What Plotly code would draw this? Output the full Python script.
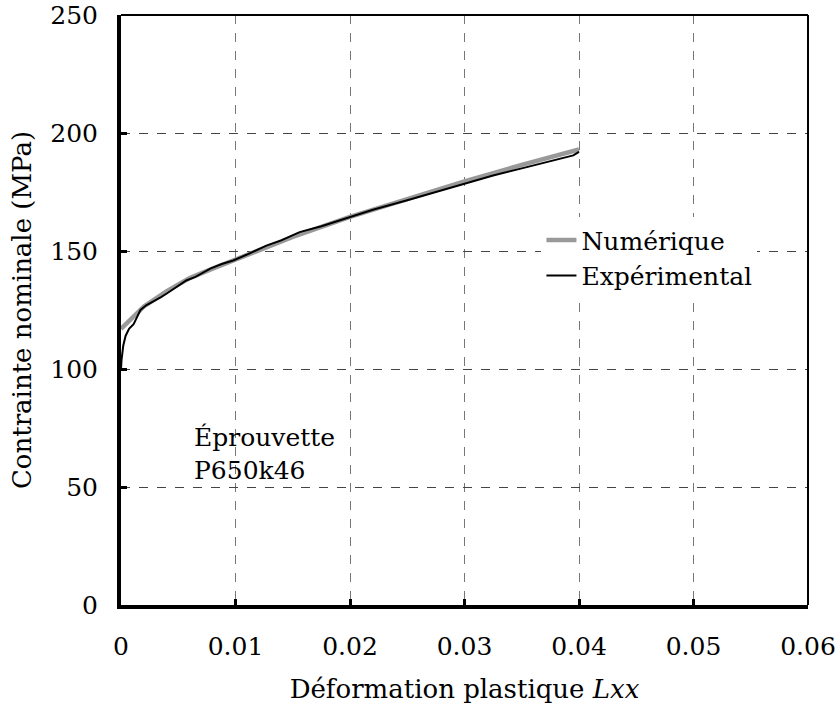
import plotly.graph_objects as go

num_x = [0, 0.001, 0.002, 0.004, 0.006, 0.008, 0.010, 0.012, 0.015, 0.020, 0.025, 0.030, 0.035, 0.040]
num_y = [117, 122, 126.5, 133, 138.5, 142.5, 146.5, 150.5, 156, 164.5, 172, 179.5, 186.5, 193]

exp_x = [0, 0.00005, 0.0002, 0.0004, 0.0007, 0.0011, 0.0014, 0.0017, 0.0022, 0.0028, 0.0035,
         0.004, 0.0048, 0.0057, 0.0065, 0.0078, 0.0088, 0.0098, 0.011, 0.0127, 0.014, 0.0156,
         0.0175, 0.02, 0.022, 0.025, 0.0275, 0.03, 0.0325, 0.035, 0.0375, 0.039, 0.0395, 0.04]
exp_y = [100, 104, 110, 114, 117, 119, 122, 125, 127, 128.5, 130.5,
         132, 134.5, 137.5, 139, 142.5, 144.5, 146, 148.5, 152.3, 154.5, 158,
         160.5, 164.5, 167.5, 171.5, 175, 178.5, 182, 185, 188, 190, 190.5, 192]

x_ticks = [0, 0.01, 0.02, 0.03, 0.04, 0.05, 0.06]
x_tick_labels = ["0", "0.01", "0.02", "0.03", "0.04", "0.05", "0.06"]
y_ticks = [0, 50, 100, 150, 200, 250]

FONT = "DejaVu Serif"
FS = 25
FT = 26

fig = go.Figure()
fig.add_trace(go.Scatter(x=num_x, y=num_y, mode="lines", name="Numérique",
                         line=dict(color="#999999", width=4.5)))
fig.add_trace(go.Scatter(x=exp_x, y=exp_y, mode="lines", name="Expérimental",
                         line=dict(color="black", width=2)))

fig.add_annotation(x=0.0062, y=50, xref="x", yref="y", xanchor="left", yanchor="bottom",
                   text="Éprouvette<br>P650k46", showarrow=False, align="left",
                   font=dict(family=FONT, size=FS, color="black"))

# top and right thin borders
fig.add_shape(type="line", xref="paper", yref="paper", x0=0, x1=1, y0=1, y1=1,
              line=dict(color="black", width=2))
fig.add_shape(type="line", xref="paper", yref="paper", x0=1, x1=1, y0=0, y1=1,
              line=dict(color="black", width=2))

fig.update_layout(
    width=840, height=713,
    margin=dict(l=121, r=32, t=15, b=108, autoexpand=False),
    plot_bgcolor="white", paper_bgcolor="white",
    font=dict(family=FONT, size=FS, color="black"),
    legend=dict(x=0.612, y=0.657, xanchor="left", yanchor="top",
                bgcolor="white", font=dict(family=FONT, size=FS),
                tracegroupgap=0),
    xaxis=dict(range=[0, 0.06], tickvals=x_ticks, ticktext=x_tick_labels,
               showline=True, linewidth=4, linecolor="black",
               ticks="inside", ticklen=6, tickwidth=3, tickcolor="black",
               showgrid=True, gridcolor="#777777", griddash="dash", gridwidth=1,
               zeroline=False, ticklabelstandoff=16, automargin=False,
               title=dict(text="Déformation plastique <i>Lxx</i>", standoff=21,
                          font=dict(family=FONT, size=FT))),
    yaxis=dict(range=[0, 250], tickvals=y_ticks,
               showline=True, linewidth=4, linecolor="black",
               ticks="inside", ticklen=6, tickwidth=3, tickcolor="black",
               showgrid=True, gridcolor="#444444", griddash="dash", gridwidth=1,
               zeroline=False, ticklabelstandoff=14, automargin=False,
               title=dict(text="Contrainte nominale (MPa)", standoff=12,
                          font=dict(family=FONT, size=FT))),
)

fig.write_html("out.html", config={"displayModeBar": False},
               post_script="document.body.style.margin='0';")
